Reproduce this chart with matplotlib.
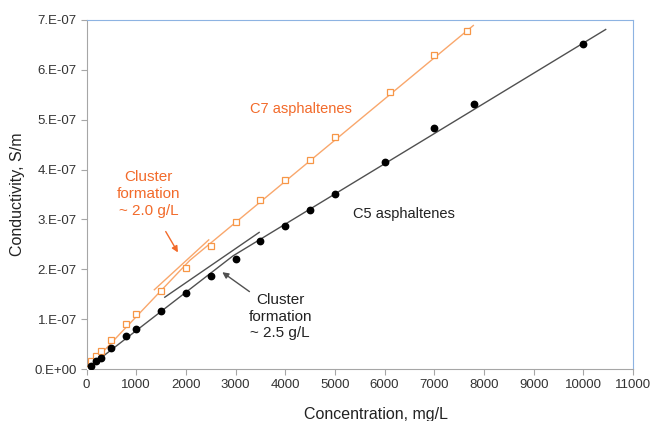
import numpy as np
import matplotlib.pyplot as plt
from matplotlib.ticker import FuncFormatter, MultipleLocator

plt.rcParams['font.family'] = ['Liberation Sans', 'DejaVu Sans']

# C7 asphaltenes (open squares), conductivity in 1e-7 S/m
c7_conc = [0, 100, 200, 300, 500, 800, 1000, 1500, 2000, 2500, 3000, 3500,
           4000, 4500, 5000, 6100, 7000, 7650]
c7_cond = [0.0, 0.16, 0.26, 0.37, 0.58, 0.90, 1.10, 1.57, 2.03, 2.46, 2.94,
           3.38, 3.80, 4.19, 4.65, 5.55, 6.30, 6.78]

# C5 asphaltenes (filled circles), conductivity in 1e-7 S/m
c5_conc = [100, 200, 300, 500, 800, 1000, 1500, 2000, 2500, 3000, 3500, 4000,
           4500, 5000, 6000, 7000, 7800, 10000]
c5_cond = [0.07, 0.16, 0.23, 0.43, 0.67, 0.80, 1.155, 1.53, 1.87, 2.215, 2.56,
           2.865, 3.19, 3.52, 4.157, 4.83, 5.315, 6.526]

# two-regime trend lines (dilute / clustered), knee at the break
c7_trend_x = [0, 2080, 7786]
c7_trend_y = [0.0, 2.18, 6.89]
c5_trend_x = [0, 2950, 10450]
c5_trend_y = [0.0, 2.27, 6.81]

# tangent guides at cluster formation
c7_guide_x = [1365, 2460]
c7_guide_y = [1.59, 2.59]
c5_guide_x = [1575, 3475]
c5_guide_y = [1.44, 2.74]

scale = 1e-7
orange_mk = '#F79646'
orange_ln = '#F9A76C'
orange_tx = '#F26A2A'
dark_ln = '#505050'

fig = plt.figure(figsize=(6.54, 4.21), dpi=100)
ax = fig.add_axes([0.1323, 0.1235, 0.8356, 0.829])

ax.plot(c7_trend_x, np.array(c7_trend_y) * scale, color=orange_ln, lw=1.0, zorder=2)
ax.plot(c5_trend_x, np.array(c5_trend_y) * scale, color=dark_ln, lw=1.0, zorder=2)
ax.plot(c7_guide_x, np.array(c7_guide_y) * scale, color=orange_ln, lw=1.0, zorder=2)
ax.plot(c5_guide_x, np.array(c5_guide_y) * scale, color=dark_ln, lw=1.0, zorder=2)

ax.plot(c7_conc, np.array(c7_cond) * scale, ls='none', marker='s', ms=4.2,
        mfc='white', mec=orange_mk, mew=0.9, zorder=3)
ax.plot(c5_conc, np.array(c5_cond) * scale, ls='none', marker='o', ms=4.6,
        color='black', zorder=3)

ax.text(4318, 5.22e-7, 'C7 asphaltenes', color=orange_tx, fontsize=10.5,
        ha='center', va='center')
ax.text(5370, 3.11e-7, 'C5 asphaltenes', color='#222222', fontsize=10.5,
        ha='left', va='center')
ax.text(1252, 3.51e-7, 'Cluster\nformation\n~ 2.0 g/L', color=orange_tx,
        fontsize=11, ha='center', va='center', linespacing=1.25)
ax.text(3895, 1.05e-7, 'Cluster\nformation\n~ 2.5 g/L', color='#222222',
        fontsize=11, ha='center', va='center', linespacing=1.25)

ax.annotate('', xy=(1868, 2.29e-7), xytext=(1566, 2.805e-7),
            arrowprops=dict(arrowstyle='-|>', color=orange_tx, lw=1.0,
                            mutation_scale=9))
ax.annotate('', xy=(2687, 1.974e-7), xytext=(3325, 1.52e-7),
            arrowprops=dict(arrowstyle='-|>', color=dark_ln, lw=1.0,
                            mutation_scale=9))

ax.set_xlim(0, 11000)
ax.set_ylim(0, 7e-7)
ax.xaxis.set_major_locator(MultipleLocator(1000))
ax.yaxis.set_major_locator(MultipleLocator(1e-7))
ax.yaxis.set_major_formatter(FuncFormatter(
    lambda v, p: '%.0f.E-07' % (v / 1e-7) if v > 0 else '0.E+00'))

for s in ('left', 'bottom'):
    ax.spines[s].set_color('#A6A6A6')
for s in ('top', 'right'):
    ax.spines[s].set_color('#8DB3E2')
ax.tick_params(direction='out', length=4, width=0.8, color='#A6A6A6',
               labelsize=9.5, labelcolor='#333333', pad=3)

ax.set_xlabel('Concentration, mg/L', fontsize=11.5, color='#222222')
ax.set_ylabel('Conductivity, S/m', fontsize=11.5, color='#222222')
ax.xaxis.set_label_coords(0.53, -0.11)
ax.yaxis.set_label_coords(-0.112, 0.5)

fig.savefig('out.png', dpi=100)
